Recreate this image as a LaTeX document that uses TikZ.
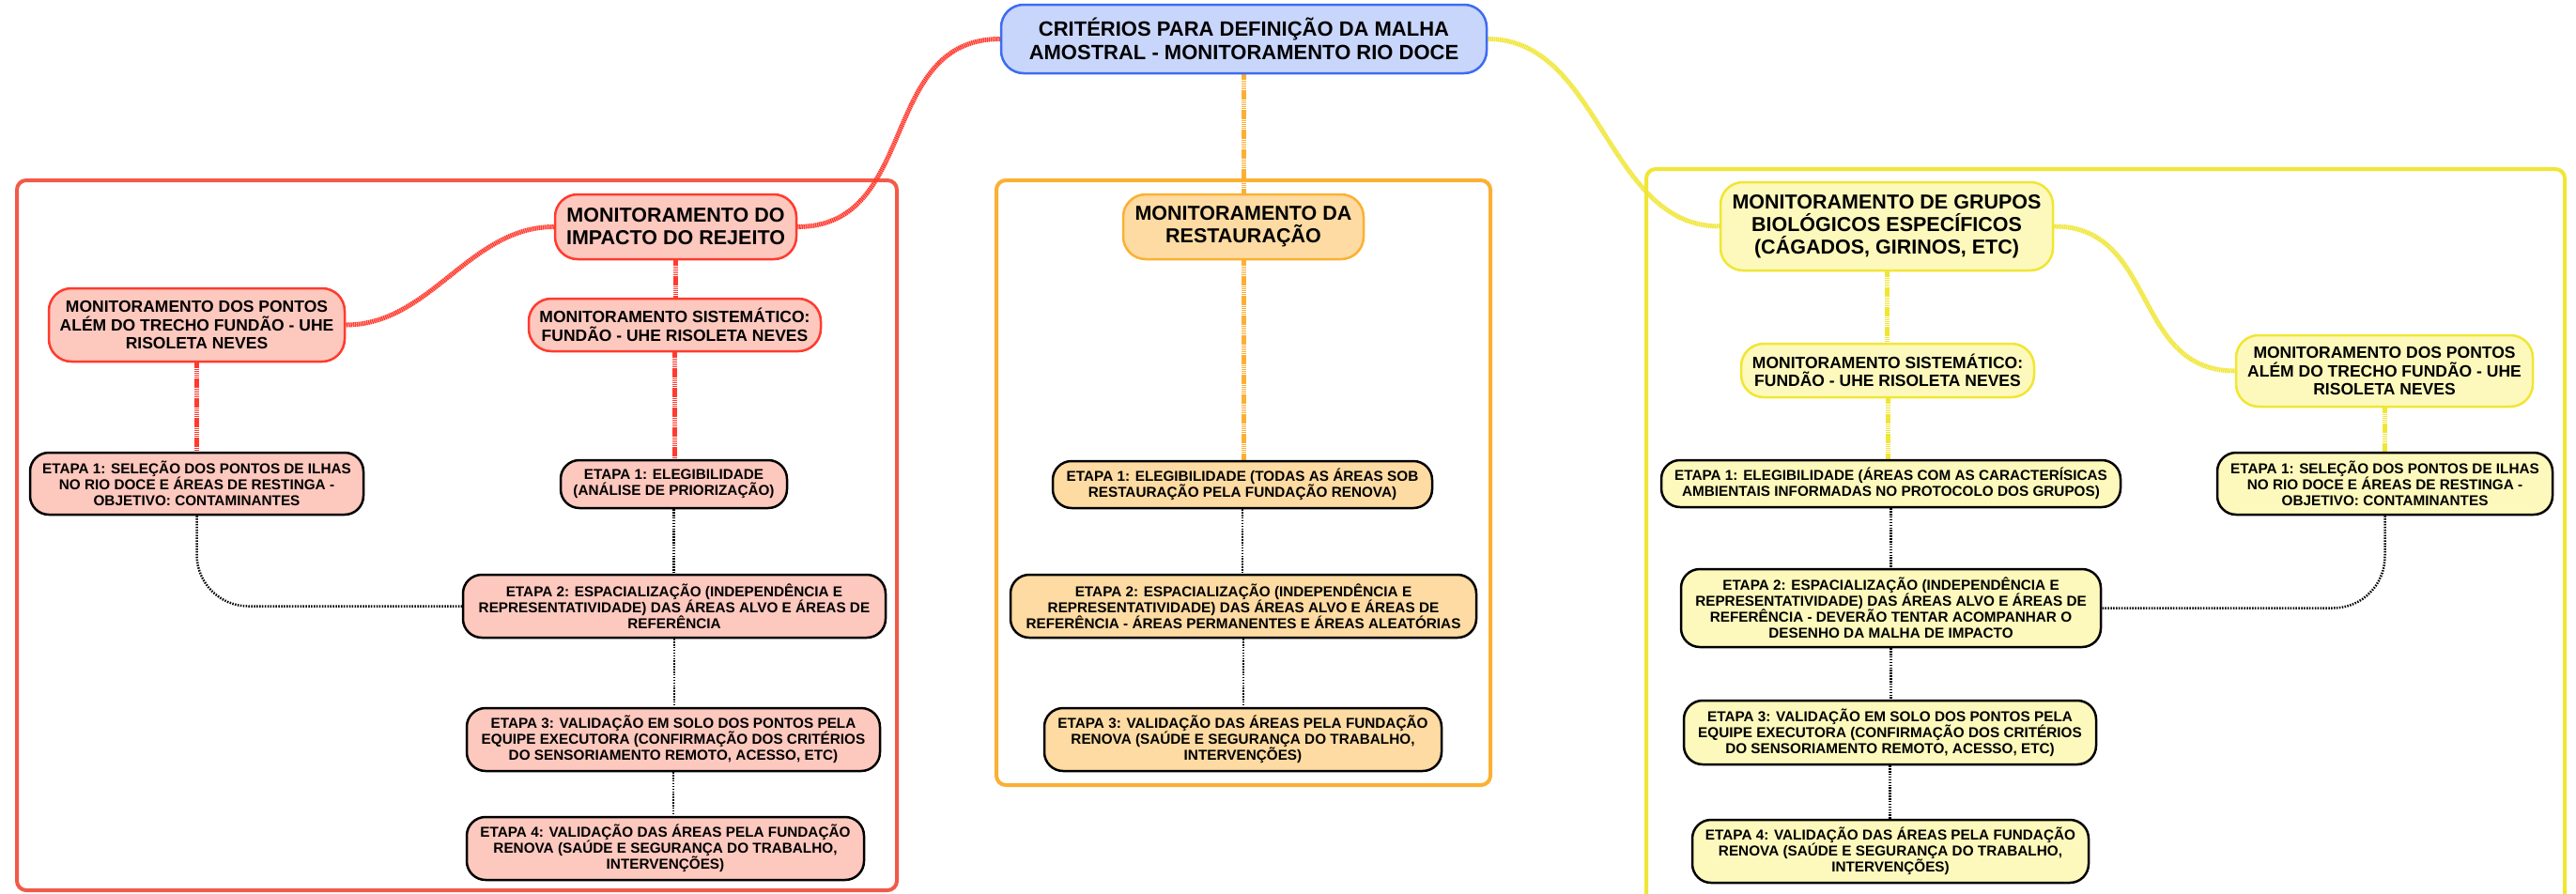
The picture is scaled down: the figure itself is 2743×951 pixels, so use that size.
\documentclass[tikz,border=0pt]{standalone}
\usepackage{fontspec}
\setmainfont{Liberation Sans}
\usetikzlibrary{backgrounds}
\definecolor{tfill}{HTML}{C9D6FB}
\definecolor{tline}{HTML}{3D6CF2}
\definecolor{rfill}{HTML}{FDC8BE}
\definecolor{rline}{HTML}{FF3B2F}
\definecolor{rframe}{HTML}{F25A48}
\definecolor{ofill}{HTML}{FDDBA2}
\definecolor{oline}{HTML}{FBB034}
\definecolor{yfill}{HTML}{FDF9BC}
\definecolor{yline}{HTML}{F0E634}
\tikzset{
  box/.style={rectangle, rounded corners=24pt, align=center, inner sep=0pt, line width=2.5pt, font=\bfseries},
  titlebox/.style={box, fill=tfill, draw=tline, font=\bfseries\fontsize{22}{25}\selectfont},
  lvltwo/.style={box, font=\bfseries\fontsize{21.5}{24}\selectfont},
  lvlthree/.style={box, font=\bfseries\fontsize{17.5}{19.5}\selectfont},
  etapa/.style={box, draw=black, rounded corners=20pt, font=\bfseries\fontsize{15.3}{16.9}\selectfont},
  redn/.style={fill=rfill, draw=rline},
  orgn/.style={fill=ofill, draw=oline},
  yeln/.style={fill=yfill, draw=yline},
  conn/.style={line width=5pt, dash pattern=on 1.5pt off 0.6pt},
  dots/.style={line width=2.5pt, dash pattern=on 1.5pt off 1.4pt, black},
  frame/.style={line width=4pt, rounded corners=10pt}
}
\begin{document}
\begin{tikzpicture}[x=1pt,y=-1pt]
\useasboundingbox (0,0) rectangle (2743,951);
% title
\node[titlebox, minimum width=517pt, minimum height=73pt] (T) at (1324.5,41.5) {CRITÉRIOS PARA DEFINIÇÃO DA MALHA\\AMOSTRAL - MONITORAMENTO RIO DOCE};
% red branch
\node[lvltwo, redn, minimum width=257pt, minimum height=69pt] (R0) at (719.5,241.5) {MONITORAMENTO DO\\IMPACTO DO REJEITO};
\node[lvlthree, redn, minimum width=315pt, minimum height=78pt] (RL) at (209.5,346) {MONITORAMENTO DOS PONTOS\\ALÉM DO TRECHO FUNDÃO - UHE\\RISOLETA NEVES};
\node[lvlthree, redn, minimum width=311pt, minimum height=56pt] (RR) at (718.5,346) {MONITORAMENTO SISTEMÁTICO:\\FUNDÃO - UHE RISOLETA NEVES};
\node[etapa, fill=rfill, minimum width=355pt, minimum height=66pt] (RL1) at (209.5,515) {ETAPA 1: SELEÇÃO DOS PONTOS DE ILHAS\\NO RIO DOCE E ÁREAS DE RESTINGA -\\OBJETIVO: CONTAMINANTES};
\node[etapa, fill=rfill, minimum width=241pt, minimum height=51pt] (RR1) at (717.5,515.5) {ETAPA 1: ELEGIBILIDADE\\(ANÁLISE DE PRIORIZAÇÃO)};
\node[etapa, fill=rfill, minimum width=450pt, minimum height=67pt] (RR2) at (718,645.5) {ETAPA 2: ESPACIALIZAÇÃO (INDEPENDÊNCIA E\\REPRESENTATIVIDADE) DAS ÁREAS ALVO E ÁREAS DE\\REFERÊNCIA};
\node[etapa, fill=rfill, minimum width=440pt, minimum height=67pt] (RR3) at (717,787.5) {ETAPA 3: VALIDAÇÃO EM SOLO DOS PONTOS PELA\\EQUIPE EXECUTORA (CONFIRMAÇÃO DOS CRITÉRIOS\\DO SENSORIAMENTO REMOTO, ACESSO, ETC)};
\node[etapa, fill=rfill, minimum width=423pt, minimum height=67pt] (RR4) at (708.5,903.5) {ETAPA 4: VALIDAÇÃO DAS ÁREAS PELA FUNDAÇÃO\\RENOVA (SAÚDE E SEGURANÇA DO TRABALHO,\\INTERVENÇÕES)};
% orange branch
\node[lvltwo, orgn, minimum width=256pt, minimum height=69pt] (O0) at (1324,241.5) {MONITORAMENTO DA\\RESTAURAÇÃO};
\node[etapa, fill=ofill, minimum width=404pt, minimum height=50pt] (O1) at (1323,516) {ETAPA 1: ELEGIBILIDADE (TODAS AS ÁREAS SOB\\RESTAURAÇÃO PELA FUNDAÇÃO RENOVA)};
\node[etapa, fill=ofill, minimum width=496pt, minimum height=67pt] (O2) at (1324,645.5) {ETAPA 2: ESPACIALIZAÇÃO (INDEPENDÊNCIA E\\REPRESENTATIVIDADE) DAS ÁREAS ALVO E ÁREAS DE\\REFERÊNCIA - ÁREAS PERMANENTES E ÁREAS ALEATÓRIAS};
\node[etapa, fill=ofill, minimum width=423pt, minimum height=67pt] (O3) at (1323.5,787.5) {ETAPA 3: VALIDAÇÃO DAS ÁREAS PELA FUNDAÇÃO\\RENOVA (SAÚDE E SEGURANÇA DO TRABALHO,\\INTERVENÇÕES)};
% yellow branch
\node[lvltwo, yeln, minimum width=354pt, minimum height=94pt] (Y0) at (2009,241) {MONITORAMENTO DE GRUPOS\\BIOLÓGICOS ESPECÍFICOS\\(CÁGADOS, GIRINOS, ETC)};
\node[lvlthree, yeln, minimum width=312pt, minimum height=57pt] (YL) at (2010,394.5) {MONITORAMENTO SISTEMÁTICO:\\FUNDÃO - UHE RISOLETA NEVES};
\node[lvlthree, yeln, minimum width=316pt, minimum height=76pt] (YR) at (2539,395) {MONITORAMENTO DOS PONTOS\\ALÉM DO TRECHO FUNDÃO - UHE\\RISOLETA NEVES};
\node[etapa, fill=yfill, minimum width=489pt, minimum height=50pt] (YL1) at (2013.5,515) {ETAPA 1: ELEGIBILIDADE (ÁREAS COM AS CARACTERÍSICAS\\AMBIENTAIS INFORMADAS NO PROTOCOLO DOS GRUPOS)};
\node[etapa, fill=yfill, minimum width=357pt, minimum height=66pt] (YR1) at (2539.5,515) {ETAPA 1: SELEÇÃO DOS PONTOS DE ILHAS\\NO RIO DOCE E ÁREAS DE RESTINGA -\\OBJETIVO: CONTAMINANTES};
\node[etapa, fill=yfill, minimum width=447pt, minimum height=83pt] (YL2) at (2013.5,647.5) {ETAPA 2: ESPACIALIZAÇÃO (INDEPENDÊNCIA E\\REPRESENTATIVIDADE) DAS ÁREAS ALVO E ÁREAS DE\\REFERÊNCIA - DEVERÃO TENTAR ACOMPANHAR O\\DESENHO DA MALHA DE IMPACTO};
\node[etapa, fill=yfill, minimum width=439pt, minimum height=68pt] (YL3) at (2012.5,780) {ETAPA 3: VALIDAÇÃO EM SOLO DOS PONTOS PELA\\EQUIPE EXECUTORA (CONFIRMAÇÃO DOS CRITÉRIOS\\DO SENSORIAMENTO REMOTO, ACESSO, ETC)};
\node[etapa, fill=yfill, minimum width=422pt, minimum height=67pt] (YL4) at (2013,906.5) {ETAPA 4: VALIDAÇÃO DAS ÁREAS PELA FUNDAÇÃO\\RENOVA (SAÚDE E SEGURANÇA DO TRABALHO,\\INTERVENÇÕES)};
\begin{pgfonlayer}{background}
\fill[white] (0,0) rectangle (2743,951);
% frames
\draw[frame, draw=rframe] (18,192) rectangle (955,948);
\draw[frame, draw=oline] (1061,192) rectangle (1587,836);
\draw[frame, draw=yline] (1753,180) rectangle (2731,990);
% colored connectors
\draw[conn, rline] (T.west) .. controls +(-130,0) and +(130,0) .. (R0.east);
\draw[conn, rline] (R0.west) .. controls +(-90,0) and +(90,0) .. (RL.east);
\draw[conn, rline] (R0.south) -- (R0.south |- RR.north);
\draw[conn, rline] (RL.south) -- (RL.south |- RL1.north);
\draw[conn, rline] (RR.south) -- (RR.south |- RR1.north);
\draw[conn, oline] (T.south) -- (T.south |- O0.north);
\draw[conn, oline] (O0.south) -- (O0.south |- O1.north);
\draw[conn, yline] (T.east) .. controls +(120,0) and +(-120,0) .. (Y0.west);
\draw[conn, yline] (Y0.east) .. controls +(110,0) and +(-110,0) .. (YR.west);
\draw[conn, yline] (Y0.south) -- (Y0.south |- YL.north);
\draw[conn, yline] (YL.south) -- (YL.south |- YL1.north);
\draw[conn, yline] (YR.south) -- (YR.south |- YR1.north);
% dotted connectors
\draw[dots] (RR1.south) -- (RR1.south |- RR2.north);
\draw[dots] (RR2.south) -- (RR2.south |- RR3.north);
\draw[dots] (RR3.south) -- (RR3.south |- RR4.north);
\draw[dots, rounded corners=55pt] (RL1.south) |- (RR2.west);
\draw[dots] (O1.south) -- (O1.south |- O2.north);
\draw[dots] (O2.south) -- (O2.south |- O3.north);
\draw[dots] (YL1.south) -- (YL1.south |- YL2.north);
\draw[dots] (YL2.south) -- (YL2.south |- YL3.north);
\draw[dots] (YL3.south) -- (YL3.south |- YL4.north);
\draw[dots, rounded corners=55pt] (YR1.south) |- (YL2.east);
\end{pgfonlayer}
\end{tikzpicture}
\end{document}
